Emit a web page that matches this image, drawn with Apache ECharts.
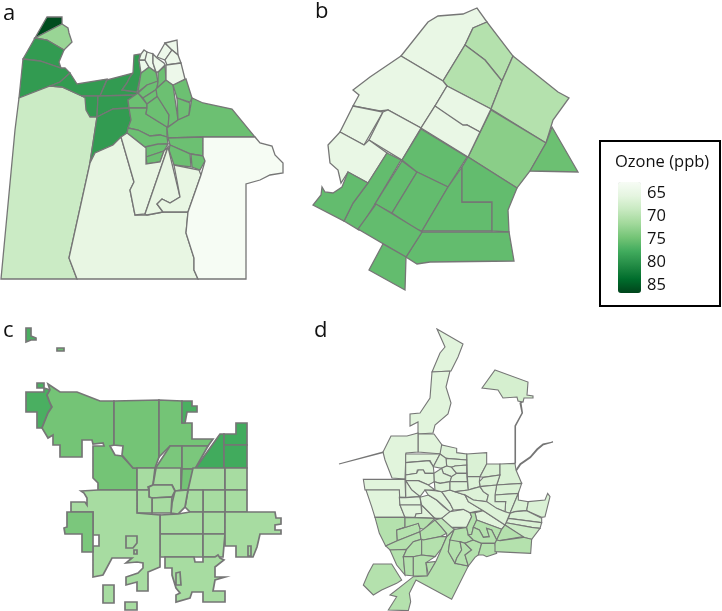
<!DOCTYPE html>
<html>
<head>
<meta charset="utf-8">
<style>html,body{margin:0;padding:0;background:#fff}#c{width:722px;height:611px}</style>
<script src="https://cdn.jsdelivr.net/npm/echarts@6/dist/echarts.min.js"></script>
</head>
<body>
<div id="c"></div>
<script>
// ---- legend ----
const legendTitle = 'Ozone (ppb)';
const legendTicks = [65, 70, 75, 80, 85];
const panelLetters = ['a', 'b', 'c', 'd'];
const ozoneColors = ['#f7fcf5','#e5f5e0','#c7e9c0','#a1d99b','#74c476','#41ab5d','#238b45','#006d2c','#00441b'];

// ---- panel a: ozone values and tract outlines ----
const valuesA = [86,72,79,79,68,79,79,79,79,79,79,75,75,75,75,75,75,75,75,75,75,75,75,75,75,75,75,75,65,65,65,65,62.5,64,64,64,64,64,64,64,64];
const tractsA = [
 [[47,17],[62,17],[62,24],[35,38]],
 [[62,24],[68,28],[69,33],[72,42],[64,50],[47,40],[35,38]],
 [[35,38],[47,40],[64,50],[59,62],[61,68],[40,61],[23,59]],
 [[23,59],[40,61],[61,68],[65,68],[70,73],[60,82],[50,86],[19,98]],
 [[19,98],[50,86],[62,87],[82,96],[86,97],[87,110],[97,117],[90,163],[69,258],[77,279],[1,279],[15,130]],
 [[70,73],[77,84],[107,79],[100,96],[82,96],[62,87],[50,86],[60,82]],
 [[107,80],[133,73],[130,77],[127,83],[122,90],[137,92],[138,95],[100,96]],
 [[133,73],[134,55],[140,54],[139,60],[141,73],[137,92],[122,90],[127,83],[130,77]],
 [[82,96],[98,96],[97,117],[90,117],[86,110],[85,98]],
 [[98,96],[138,95],[128,100],[129,108],[113,109],[97,117]],
 [[97,117],[113,109],[129,108],[131,120],[127,133],[113,145],[95,153],[90,162]],
 [[128,100],[138,93],[147,104],[147,108],[129,108]],
 [[129,108],[147,108],[146,114],[167,127],[167,137],[160,135],[150,136],[138,130],[128,128],[131,120]],
 [[128,128],[138,130],[150,136],[160,135],[167,137],[168,144],[158,145],[145,147],[127,133]],
 [[145,147],[158,144],[168,144],[164,151],[146,157]],
 [[146,157],[164,151],[160,162],[147,164]],
 [[138,92],[141,73],[149,67],[156,72],[158,82],[147,85]],
 [[138,93],[147,85],[158,81],[157,89],[143,98]],
 [[158,72],[165,66],[166,80],[157,88],[158,82]],
 [[143,98],[157,89],[158,96],[147,104]],
 [[147,104],[158,96],[169,115],[169,125],[167,127],[146,114],[147,108]],
 [[156,89],[166,80],[173,85],[178,120],[168,127],[169,115],[157,96]],
 [[173,85],[186,79],[192,98],[190,102],[177,98]],
 [[177,98],[190,103],[189,115],[178,120]],
 [[178,120],[189,115],[192,98],[203,103],[232,109],[255,137],[203,137],[168,138],[167,128]],
 [[168,138],[203,137],[203,156],[191,154],[170,145]],
 [[170,145],[190,154],[191,167],[174,165],[169,150]],
 [[191,154],[204,156],[205,161],[200,170],[192,167]],
 [[90,163],[95,153],[113,145],[121,137],[134,182],[130,190],[135,215],[147,215],[163,212],[188,212],[186,233],[194,258],[194,270],[198,279],[77,279],[69,258]],
 [[121,137],[127,133],[146,148],[146,164],[160,162],[164,151],[168,147],[145,214],[135,215],[130,190],[134,182]],
 [[168,147],[180,197],[170,203],[162,199],[157,204],[163,212],[147,215],[145,214]],
 [[174,165],[199,170],[201,175],[188,212],[163,212],[157,204],[162,199],[170,203],[180,197]],
 [[203,137],[255,137],[260,143],[272,146],[275,155],[283,163],[283,173],[270,175],[260,180],[246,184],[246,279],[198,279],[194,270],[194,258],[186,233],[188,212],[201,175],[205,161],[203,156]],
 [[139,60],[145,60],[149,67],[141,73]],
 [[139,60],[141,54],[144,50],[147,52],[146,60]],
 [[147,52],[153,54],[153,63],[156,72],[149,67],[145,60]],
 [[153,54],[157,58],[164,63],[165,65],[158,72],[156,72],[153,63]],
 [[157,57],[165,43],[172,50],[165,60]],
 [[165,43],[177,40],[178,55],[172,50]],
 [[172,50],[178,55],[181,63],[167,65],[165,60]],
 [[166,65],[181,63],[185,79],[173,85],[166,80]]
];

// ---- panel b ----
const valuesB = [64.7,70,70,70,73,75,64.7,64.7,64.7,64.7,64.7,64.7,75.5,75.5,75.5,75.5,75.5,75.5,75.5,75.5,75.5,75.5];
const tractsB = [
 [[401,56],[428,22],[438,16],[463,14],[477,8],[487,22],[473,28],[465,45],[443,81]],
 [[473,28],[487,22],[513,56],[502,81],[485,60],[465,45]],
 [[465,45],[485,60],[502,81],[491,109],[447,86],[443,81]],
 [[513,56],[558,92],[569,98],[553,120],[546,143],[491,109],[502,81]],
 [[546,143],[530,171],[517,188],[468,157],[491,110]],
 [[552,127],[578,172],[530,171],[546,143]],
 [[401,56],[443,81],[447,86],[435,106],[421,128],[388,110],[380,111],[353,106],[359,95],[353,90],[370,77]],
 [[447,86],[491,109],[480,132],[467,125],[463,127],[435,106]],
 [[435,106],[463,125],[467,125],[480,132],[468,157],[421,128]],
 [[353,106],[383,112],[364,145],[340,132]],
 [[383,112],[388,110],[421,128],[402,160],[369,140]],
 [[340,132],[364,145],[369,140],[387,153],[368,183],[348,172],[341,183],[338,170],[330,163],[328,145]],
 [[387,153],[401,160],[375,204],[359,230],[344,221],[353,203],[368,183]],
 [[402,161],[417,172],[392,213],[375,204]],
 [[421,129],[467,157],[448,187],[417,172],[402,160]],
 [[417,172],[448,187],[422,231],[417,230],[392,213]],
 [[448,187],[462,167],[462,202],[492,202],[492,231],[422,231]],
 [[462,167],[468,157],[517,188],[508,210],[509,232],[492,231],[492,202],[462,202]],
 [[422,232],[509,232],[514,261],[430,262],[417,264],[406,257]],
 [[376,204],[422,232],[406,257],[358,229]],
 [[383,244],[406,257],[405,290],[369,270]],
 [[348,172],[368,183],[353,203],[344,221],[313,205],[321,195],[322,187],[325,192],[333,193],[342,187]]
];

// ---- panel c ----
const valuesC = [77,75,77,74.5,74.5,74.5,77,74,74,77.5,77.5,77.5,71,71,74.5,71,71,71,71,71,71,71,71,71,71,71,71,71,71,71,71,74,71,71];
const tractsC = [
 [[[26,328],[31,328],[31,336],[36,338],[36,340],[31,340],[26,342]]],
 [[[57,348],[64,348],[64,351],[57,351]]],
 [[[37,383],[44,383],[44,388],[50,390],[47,395],[50,403],[52,407],[48,413],[42,428],[37,428],[37,412],[26,412],[26,392],[44,392],[44,388],[37,388]]],
 [[[48,384],[60,392],[77,392],[100,401],[114,401],[114,445],[110,446],[115,455],[122,456],[133,468],[137,468],[137,490],[98,490],[98,483],[93,478],[93,446],[104,446],[103,443],[93,444],[92,440],[82,440],[82,457],[60,457],[60,445],[53,445],[53,435],[48,438],[42,428],[48,413],[52,407],[50,403],[47,395],[50,390]]],
 [[[114,401],[159,400],[159,457],[155,468],[133,468],[122,455],[123,446],[114,445]]],
 [[[159,400],[182,401],[182,423],[192,423],[192,439],[213,439],[208,446],[170,446],[159,457]]],
 [[[182,401],[192,401],[192,406],[197,406],[197,412],[187,412],[185,423],[182,423]]],
 [[[170,446],[182,446],[182,469],[155,469]]],
 [[[182,446],[208,446],[195,469],[182,469]]],
 [[[220,434],[224,434],[224,469],[195,469]]],
 [[[224,434],[236,434],[236,423],[247,423],[247,445],[224,445]]],
 [[[224,445],[247,445],[247,468],[224,468]]],
 [[[137,468],[155,468],[153,485],[148,487],[149,490],[137,490]]],
 [[[156,468],[181,468],[181,490],[175,491],[172,485],[153,485]]],
 [[[182,469],[195,469],[188,490],[181,490]]],
 [[[193,468],[225,468],[225,490],[188,490]]],
 [[[225,468],[247,468],[247,490],[225,490]]],
 [[[225,490],[247,490],[247,512],[225,512]]],
 [[[203,490],[225,490],[225,512],[203,512]]],
 [[[188,490],[203,490],[203,512],[190,512],[185,507]]],
 [[[175,491],[188,490],[185,507],[178,514],[171,513],[172,503]]],
 [[[149,487],[153,485],[172,485],[175,491],[172,497],[152,498],[149,497]]],
 [[[152,498],[172,497],[171,513],[152,513]]],
 [[[137,490],[149,490],[149,497],[152,498],[152,513],[137,513]]],
 [[[160,515],[178,514],[190,512],[203,512],[203,534],[160,534]]],
 [[[203,512],[225,512],[225,534],[203,534]]],
 [[[160,534],[203,534],[203,557],[160,557]]],
 [[[203,534],[225,534],[224,545],[223,557],[203,557]]],
 [[[225,512],[275,512],[276,518],[281,518],[281,524],[275,525],[275,530],[281,530],[281,534],[260,534],[257,547],[253,557],[236,557],[236,546],[225,546]],
  [[248,546],[251,546],[251,556],[248,556]]],
 [[[165,557],[194,557],[195,562],[203,562],[203,557],[215,557],[218,555],[220,558],[224,560],[215,567],[215,577],[225,577],[215,580],[213,591],[225,591],[225,602],[203,602],[203,592],[192,592],[190,598],[176,602],[176,595],[180,593],[176,588],[172,575],[172,568],[165,568]],
  [[176,573],[180,572],[181,585],[176,585]]],
 [[[81,491],[98,490],[137,490],[137,513],[160,515],[160,567],[148,572],[148,591],[137,591],[137,582],[126,585],[126,577],[138,573],[143,568],[143,563],[137,562],[126,563],[132,558],[112,558],[103,575],[93,577],[93,546],[99,546],[99,535],[93,535],[93,512],[71,512],[71,502],[85,502],[87,505],[87,498],[84,493]],
  [[126,536],[137,536],[137,543],[133,548],[126,548]],
  [[134,550],[137,550],[137,554],[134,554]]],
 [[[67,512],[93,512],[93,552],[82,552],[82,534],[65,534],[64,528],[67,527]]],
 [[[103,585],[114,585],[114,603],[103,603]]],
 [[[125,602],[137,602],[137,610],[125,610]]]
];

// ---- panel d: long northern tracts, thin connectors and the island ----
const valuesDOuter = [65.8,65.8,65.8,65.8,65.8,65.8,67,66.5];
const tractsDOuter = [
 [[437,329],[463,344],[458,357],[451,371],[432,372],[440,353],[445,347]],
 [[432,372],[450,371],[446,387],[451,403],[448,414],[435,425],[433,433],[418,434],[418,422],[410,426],[410,414],[420,413],[430,398]],
 [[418,434],[434,434],[442,445],[442,454],[418,452]],
 [[391,436],[407,436],[418,433],[418,452],[406,453],[405,479],[392,478],[385,460],[383,452]],
 [[383,452],[339,464],[339,464.6],[383,452.6]],
 [[515,463],[515,426],[522,413],[520,403],[523,401],[523.5,401.5],[521,403],[522.5,413],[515.5,426],[515.5,463]],
 [[495,370],[528,382],[527,395],[533,396],[533,398],[524,398],[523,402],[518,401],[517,397],[503,398],[498,390],[482,388]],
 [[516,470],[520,464],[530,457],[537,449],[543,444],[553,442],[553,442.6],[543.5,444.6],[537.5,449.6],[530.5,457.6],[520.5,464.6],[516.5,470.6]]
];

// ---- panel d: central and eastern tracts, west group ----
const valuesDWest = [65.8,65.8,65.8,65.8,65.8,65.8,65.8,65.8,65.8,65.8,65.8,65.8,65.8,65.8,65.8];
const tractsDWest = [
 [[197,42],[300,42],[280,80],[270,62],[197,68]],
 [[197,68],[268,62],[280,80],[282,100],[255,100],[250,90],[232,90],[230,100],[197,105]],
 [[197,105],[230,100],[235,90],[250,90],[255,100],[282,100],[283,125],[265,135],[235,122],[197,122]],
 [[197,122],[235,122],[265,135],[285,150],[255,150],[240,170],[215,150]],
 [[197,122],[215,150],[240,170],[197,173]],
 [[70,118],[195,118],[197,172],[178,172],[178,150],[75,150]],
 [[78,150],[178,150],[180,195],[195,232],[105,232],[95,200]],
 [[197,173],[240,170],[243,195],[180,195],[178,172]],
 [[180,195],[243,195],[245,220],[228,222],[225,232],[195,232]],
 [[245,195],[285,235],[225,232],[228,222],[245,220]],
 [[240,172],[265,165],[290,180],[310,200],[330,215],[305,235],[285,235],[245,195]],
 [[285,152],[305,155],[330,190],[340,210],[330,215],[290,180],[265,165],[255,150]],
 [[305,235],[330,215],[370,208],[390,218],[395,230],[380,262],[335,262]],
 [[305,155],[330,150],[345,155],[375,165],[385,185],[430,212],[405,215],[390,218],[370,208],[340,210],[330,190]],
 [[405,218],[430,212],[495,255],[485,268],[410,240]]
];

// ---- panel d: eastern group ----
const valuesDEast = [66.5,66.5,66.5,66.5,66.5,66.5,66.5,66.5,66.5,66.5,68];
const tractsDEast = [
 [[380,42],[440,38],[440,72],[420,110],[382,110]],
 [[440,72],[480,72],[480,105],[430,112],[420,110]],
 [[480,72],[525,70],[528,90],[545,130],[470,135],[480,105]],
 [[430,112],[480,105],[470,135],[420,140],[418,125]],
 [[545,130],[535,160],[465,165],[470,135]],
 [[465,165],[535,160],[510,220],[495,215],[497,185],[465,185]],
 [[535,160],[535,180],[565,185],[560,212],[525,215],[510,220]],
 [[565,185],[615,180],[623,160],[630,170],[615,230],[605,232],[560,212]],
 [[510,220],[525,215],[560,212],[605,235],[605,248],[505,235]],
 [[505,235],[605,248],[600,265],[575,262],[498,248]],
 [[498,248],[575,262],[600,265],[575,298],[550,292],[495,255]]
];

// ---- panel d: middle group ----
const valuesDMiddle = [66.2,66.2,66.2,66.2,66.2,66.2,66.2,66.2,66.2,66.2,66.2,66.2,66.2];
const tractsDMiddle = [
 [[300,42],[305,15],[350,25],[350,38],[380,42],[380,60],[318,55]],
 [[318,55],[380,60],[380,75],[345,78],[335,82],[320,78]],
 [[300,42],[318,55],[320,78],[305,85],[280,80]],
 [[305,85],[320,78],[335,82],[350,100],[335,110],[310,100]],
 [[335,82],[345,78],[380,75],[380,100],[350,100]],
 [[282,100],[305,85],[310,100],[335,110],[330,125],[300,130],[283,125]],
 [[350,100],[380,100],[382,125],[330,125],[335,110]],
 [[283,125],[300,130],[330,125],[330,150],[305,155],[285,150]],
 [[330,125],[382,125],[385,150],[345,155],[330,150]],
 [[382,110],[420,110],[418,125],[420,140],[400,145],[385,150]],
 [[385,150],[420,140],[430,155],[445,165],[440,185],[400,180],[375,165],[345,155]],
 [[420,140],[470,135],[465,165],[465,185],[497,185],[495,215],[470,205],[440,185],[445,165],[430,155]],
 [[375,165],[400,180],[440,185],[470,205],[495,215],[510,220],[498,248],[495,255],[430,212],[385,185]]
];

// ---- panel d: southern tracts ----
const valuesDSouth = [70,70,70,70,70,70,70,70,70,70,70,70,69,70,70,70,70,70,70,70,70,70,70,70];
const tractsDSouth = [
 [[105,232],[195,232],[195,262],[170,272],[172,302],[137,318],[118,280]],
 [[170,270],[235,250],[240,265],[240,275],[172,302]],
 [[195,232],[285,235],[262,258],[250,268],[240,265],[235,250],[170,270],[195,262]],
 [[137,318],[172,302],[240,275],[243,298],[220,305],[200,328],[150,330]],
 [[150,330],[200,328],[190,350],[195,405],[170,375]],
 [[200,328],[220,305],[245,298],[245,345],[220,350],[190,350]],
 [[250,268],[285,240],[305,262],[320,280],[300,290],[250,300],[243,298],[240,275]],
 [[250,300],[300,290],[320,290],[305,325],[285,350],[245,345],[245,298]],
 [[190,350],[220,350],[220,408],[195,405]],
 [[220,350],[245,345],[285,350],[258,368],[262,408],[220,408]],
 [[258,368],[288,364],[265,405],[262,408]],
 [[343,268],[330,300],[325,335],[345,370],[385,378],[335,478],[228,420],[208,460],[212,485],[205,512],[145,510],[170,470],[150,465],[220,410],[262,408],[288,364],[305,325],[320,290]],
 [[285,240],[305,235],[335,262],[343,268],[320,290],[320,280],[305,262]],
 [[343,268],[380,262],[385,285],[400,300],[375,310],[360,305],[335,310],[330,300]],
 [[330,300],[360,305],[365,330],[350,355],[345,370],[325,335]],
 [[360,305],[375,310],[395,330],[375,345],[385,378],[345,370],[350,355],[365,330]],
 [[375,310],[400,300],[425,310],[415,345],[405,352],[385,378],[375,345],[395,330]],
 [[380,262],[395,230],[390,218],[405,218],[410,240],[400,262],[395,283],[385,285]],
 [[410,240],[485,268],[470,300],[455,270],[440,265],[448,290],[430,292],[418,270],[400,262]],
 [[400,262],[418,270],[430,292],[448,290],[440,265],[455,270],[470,300],[465,310],[425,310],[400,300],[385,285],[395,283]],
 [[425,310],[465,310],[470,340],[440,350],[430,345],[415,345]],
 [[485,268],[495,255],[550,290],[480,302],[470,300]],
 [[480,302],[550,292],[575,298],[572,340],[465,335],[465,310],[470,300]],
 [[100,372],[155,372],[185,420],[170,430],[125,450],[100,465],[70,435],[85,400]]
];

// ---- build maps from the tables ----
const fromCrop = ring => ring.map(p => [340 + p[0] / 3, 440 + p[1] / 3]);
function toGeo(tracts, values, prefix, nested) {
  const features = [], data = [];
  tracts.forEach((t, i) => {
    const name = prefix + i;
    features.push({type: 'Feature', properties: {name},
      geometry: {type: 'Polygon', coordinates: (nested ? t : [t]).map(r => r.concat([r[0]]))}});
    data.push({name, value: values[i]});
  });
  return {geo: {type: 'FeatureCollection', features}, data};
}
const panelA = toGeo(tractsA, valuesA, 'a', false);
const panelB = toGeo(tractsB, valuesB, 'b', false);
const panelC = toGeo(tractsC, valuesC, 'c', true);
const panelD = toGeo(
  tractsDOuter.concat(tractsDWest.map(fromCrop), tractsDEast.map(fromCrop), tractsDMiddle.map(fromCrop), tractsDSouth.map(fromCrop)),
  valuesDOuter.concat(valuesDWest, valuesDEast, valuesDMiddle, valuesDSouth), 'd', false);

const chart = echarts.init(document.getElementById('c'), null, {renderer: 'canvas'});
const W = 722, H = 611;
const identity = {project: p => p, unproject: p => p};
function mapSeries(key, panel, lineWidth) {
  echarts.registerMap(key, panel.geo);
  return {
    type: 'map', map: key, silent: true, roam: false,
    projection: identity,
    boundingCoords: [[0, 0], [W, H]],
    layoutCenter: [W / 2, H / 2], layoutSize: W,
    label: {show: false},
    emphasis: {disabled: true}, select: {disabled: true},
    itemStyle: {borderColor: '#767676', borderWidth: lineWidth},
    data: panel.data
  };
}
const barTop = 182, barHeight = 111, scaleMin = 62.4, scaleMax = 86.6;
const font = '"Open Sans", sans-serif';
const letterPos = [[3, 3], [315, 1], [3, 320], [314, 320]];
chart.setOption({
  animation: false,
  backgroundColor: '#fff',
  visualMap: {
    type: 'continuous', show: true, min: scaleMin, max: scaleMax,
    inRange: {color: ozoneColors},
    calculable: false, hoverLink: false, inverse: true, orient: 'vertical',
    left: 618, top: barTop, itemWidth: 23, itemHeight: barHeight, padding: 0,
    text: null, seriesIndex: [0, 1, 2, 3], silent: true
  },
  series: [mapSeries('a', panelA, 1.3), mapSeries('b', panelB, 1.3), mapSeries('c', panelC, 1.7), mapSeries('d', panelD, 1.1)],
  graphic: [
    {type: 'rect', z: -1, shape: {x: 600, y: 141, width: 120, height: 165}, style: {fill: '#fff', stroke: '#000', lineWidth: 2}},
    {type: 'text', x: 615, y: 162, style: {text: legendTitle, font: '16.5px ' + font, fill: '#111', textVerticalAlign: 'middle', verticalAlign: 'middle'}}
  ].concat(legendTicks.map(t => ({
    type: 'text', x: 647, y: barTop + (t - scaleMin) / (scaleMax - scaleMin) * barHeight - 0.5,
    style: {text: String(t), font: '16.5px ' + font, fill: '#111', textVerticalAlign: 'middle', verticalAlign: 'middle'}
  }))).concat(panelLetters.map((l, i) => ({
    type: 'text', x: letterPos[i][0], y: letterPos[i][1],
    style: {text: l, font: '22px ' + font, fill: '#111'}
  })))
});
</script>
</body>
</html>
